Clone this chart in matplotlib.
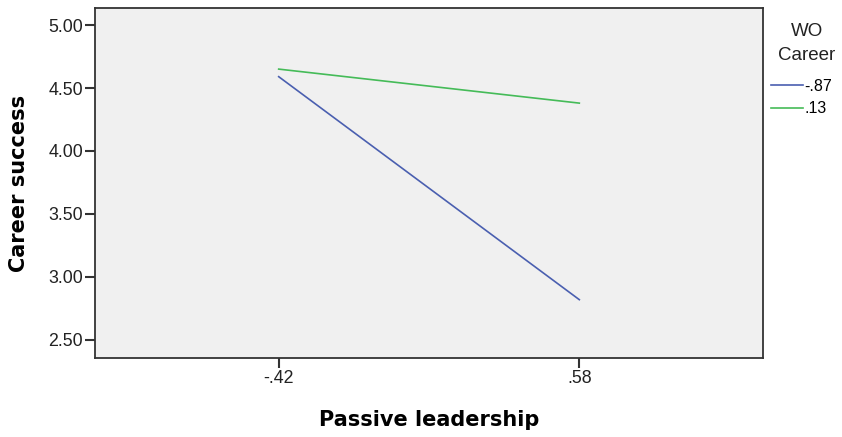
import matplotlib
matplotlib.use("Agg")
import matplotlib.pyplot as plt

x_labels = ["-.42", ".58"]
x_values = [-0.42, 0.58]
series_names = ["-.87", ".13"]
series_low = [4.59, 2.82]    # WO Career = -.87
series_high = [4.65, 4.38]   # WO Career = .13
y_ticks = [2.50, 3.00, 3.50, 4.00, 4.50, 5.00]

colors = ["#4a5fb0", "#45bb58"]

plt.rcParams['font.family'] = ['Liberation Sans', 'DejaVu Sans']

fig = plt.figure(figsize=(8.42, 4.37), dpi=100)
ax = fig.add_axes([95/842, 1 - 358/437, (763-95)/842, (358-8)/437])
ax.set_facecolor("#f0f0f0")

lines = []
for vals, name, c in zip([series_low, series_high], series_names, colors):
    ln, = ax.plot(x_values, vals, color=c, lw=1.2, label=name)
    lines.append(ln)

ax.set_xlim(-1.031, 1.191)
ax.set_ylim(2.357, 5.135)
ax.set_xticks(x_values)
ax.set_xticklabels(x_labels)
ax.set_yticks(y_ticks)
ax.set_yticklabels([f"{v:.2f}" for v in y_ticks])
ax.tick_params(axis='both', direction='out', length=7, width=1.5, color="#333333",
               labelsize=12.8, labelcolor="#222222", pad=1.5)
for s in ax.spines.values():
    s.set_color("#333333")
    s.set_linewidth(1.3)

ax.set_xlabel("Passive leadership", fontsize=15, fontweight='bold',
              family=['DejaVu Sans'], labelpad=17)
ax.set_ylabel("Career success", fontsize=15, fontweight='bold',
              family=['DejaVu Sans'], labelpad=14)

fig.text(807/842, 1 - 32/437, "WO", ha='center', va='center', fontsize=13.5, color="#222222")
fig.text(807/842, 1 - 55/437, "Career", ha='center', va='center', fontsize=13.5, color="#222222")
leg = fig.legend(handles=lines, labels=series_names, loc='upper left',
                 bbox_to_anchor=(771/842, 1 - 79/437), frameon=False,
                 fontsize=11.5, handlelength=2.0, handletextpad=0.1,
                 labelspacing=0.45, borderaxespad=0, borderpad=0)

fig.savefig("out.png", dpi=100)
